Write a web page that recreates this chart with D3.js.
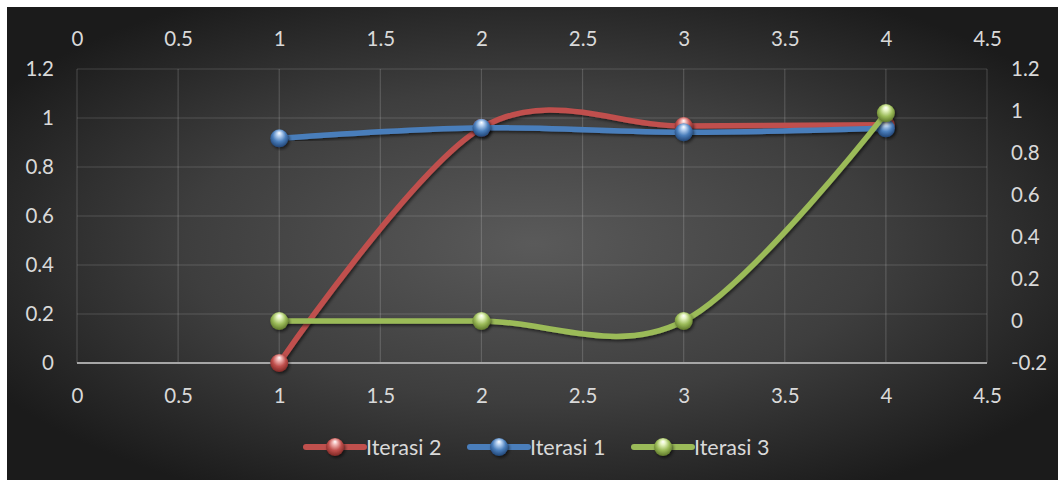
<!DOCTYPE html>
<html>
<head>
<meta charset="utf-8">
<script src="https://cdn.jsdelivr.net/npm/d3@7"></script>
<style>
  html, body { margin: 0; padding: 0; background: #ffffff; }
  svg { display: block; }
  text { font-family: Lato, "Open Sans", sans-serif; fill: #d9d9d9; }
</style>
</head>
<body>
<svg id="chart" width="1058" height="481"></svg>
<script>
// Iteration results at each step
const steps = [1, 2, 3, 4];
const iterasi1 = [0.917, 0.960, 0.942, 0.958];
const iterasi2 = [0, 0.960, 0.967, 0.972];
const iterasi3 = [0, 0, 0, 0.99];   // plotted on the secondary axis

const xTicks = [0, 0.5, 1, 1.5, 2, 2.5, 3, 3.5, 4, 4.5];
const yLeftTicks = [0, 0.2, 0.4, 0.6, 0.8, 1, 1.2];
const yRightTicks = [-0.2, 0, 0.2, 0.4, 0.6, 0.8, 1, 1.2];

const seriesList = [
  { name: "Iterasi 2", values: iterasi2, color: "#c0504d", light: "#f2b8b6", dark: "#7a2522", axis: "left" },
  { name: "Iterasi 1", values: iterasi1, color: "#4a7ebb", light: "#b9d3f2", dark: "#1f4272", axis: "left" },
  { name: "Iterasi 3", values: iterasi3, color: "#9bbb59", light: "#e6f5c2", dark: "#5b7428", axis: "right" }
];

const svg = d3.select("#chart");
const W = 1058, H = 481;
const plot = { left: 77, right: 987, top: 69, bottom: 363 };

const defs = svg.append("defs");

// Dark chart background, lighter toward the middle
const bg = defs.append("radialGradient").attr("id", "bgGrad")
  .attr("cx", "0.5").attr("cy", "0.5").attr("r", "0.6");
bg.append("stop").attr("offset", "0%").attr("stop-color", "#5a5a5a");
bg.append("stop").attr("offset", "55%").attr("stop-color", "#3e3e3e");
bg.append("stop").attr("offset", "100%").attr("stop-color", "#1b1b1b");

const shadow = defs.append("filter").attr("id", "shadow")
  .attr("x", "-20%").attr("y", "-20%").attr("width", "140%").attr("height", "140%");
shadow.append("feDropShadow").attr("dx", 1.5).attr("dy", 2).attr("stdDeviation", 1.8)
  .attr("flood-color", "#000").attr("flood-opacity", 0.55);

// Glossy sphere fill for each series' markers
seriesList.forEach((s, i) => {
  const g = defs.append("radialGradient").attr("id", "sphere" + i)
    .attr("cx", "0.5").attr("cy", "0.42").attr("r", "0.6")
    .attr("fx", "0.5").attr("fy", "0.2");
  g.append("stop").attr("offset", "0%").attr("stop-color", "#ffffff");
  g.append("stop").attr("offset", "22%").attr("stop-color", s.light);
  g.append("stop").attr("offset", "60%").attr("stop-color", s.color);
  g.append("stop").attr("offset", "100%").attr("stop-color", s.dark);
});

svg.append("rect").attr("x", 7).attr("y", 7).attr("width", W - 7).attr("height", H - 8)
  .attr("fill", "url(#bgGrad)");

const x = d3.scaleLinear().domain([0, 4.5]).range([plot.left, plot.right]);
const yL = d3.scaleLinear().domain([0, 1.2]).range([plot.bottom, plot.top]);
const yR = d3.scaleLinear().domain([-0.2, 1.2]).range([plot.bottom, plot.top]);

// Gridlines
const grid = svg.append("g");
grid.selectAll("line.v").data(xTicks).join("line")
  .attr("x1", d => x(d)).attr("x2", d => x(d))
  .attr("y1", plot.top).attr("y2", plot.bottom)
  .attr("stroke", "rgba(255,255,255,0.16)").attr("stroke-width", 1.2);
grid.selectAll("line.h").data(yLeftTicks.filter(d => d > 0)).join("line")
  .attr("x1", plot.left).attr("x2", plot.right)
  .attr("y1", d => yL(d)).attr("y2", d => yL(d))
  .attr("stroke", "rgba(255,255,255,0.16)").attr("stroke-width", 1.2);

// Horizontal axis line
svg.append("line")
  .attr("x1", plot.left).attr("x2", plot.right)
  .attr("y1", yL(0)).attr("y2", yL(0))
  .attr("stroke", "#a6a6a6").attr("stroke-width", 2.2);

// Axes (labels only, no tick marks)
function styleAxis(g) {
  g.select(".domain").remove();
  g.selectAll(".tick line").remove();
  g.selectAll(".tick text").attr("fill", "#d9d9d9").style("font-size", "20.5px")
    .style("font-family", "Lato, 'Open Sans', sans-serif");
}
const fmt = d => String(d);

svg.append("g").attr("transform", `translate(0,${yL(0)})`)
  .call(d3.axisBottom(x).tickValues(xTicks).tickFormat(fmt).tickSize(0).tickPadding(25))
  .call(styleAxis);
svg.append("g").attr("transform", `translate(0,${plot.top})`)
  .call(d3.axisTop(x).tickValues(xTicks).tickFormat(fmt).tickSize(0).tickPadding(23))
  .call(styleAxis);
svg.append("g").attr("transform", `translate(${plot.left},0)`)
  .call(d3.axisLeft(yL).tickValues(yLeftTicks).tickFormat(fmt).tickSize(0).tickPadding(23))
  .call(styleAxis);
svg.append("g").attr("transform", `translate(${plot.right},0)`)
  .call(d3.axisRight(yR).tickValues(yRightTicks).tickFormat(fmt).tickSize(0).tickPadding(24))
  .call(styleAxis);

// Smoothed series lines with sphere markers
const markerR = 9;
seriesList.forEach((s, i) => {
  const y = s.axis === "left" ? yL : yR;
  const pts = steps.map((st, j) => [st, s.values[j]]);
  const line = d3.line().x(d => x(d[0])).y(d => y(d[1])).curve(d3.curveCardinal.tension(0));
  const g = svg.append("g").attr("class", "series");
  g.append("path").datum(pts).attr("d", line)
    .attr("fill", "none").attr("stroke", s.color).attr("stroke-width", 5.5)
    .attr("stroke-linecap", "round").attr("filter", "url(#shadow)");
  g.selectAll("circle").data(pts).join("circle")
    .attr("cx", d => x(d[0])).attr("cy", d => y(d[1])).attr("r", markerR)
    .attr("fill", `url(#sphere${i})`).attr("filter", "url(#shadow)");
});

// Legend
const legendItems = [
  { s: seriesList[0], x0: 306 },
  { s: seriesList[1], x0: 470 },
  { s: seriesList[2], x0: 634 }
];
const ly = 447;
legendItems.forEach(({ s, x0 }) => {
  const i = seriesList.indexOf(s);
  const g = svg.append("g");
  g.append("line").attr("x1", x0).attr("x2", x0 + 58).attr("y1", ly).attr("y2", ly)
    .attr("stroke", s.color).attr("stroke-width", 6).attr("stroke-linecap", "round");
  g.append("circle").attr("cx", x0 + 29).attr("cy", ly).attr("r", markerR)
    .attr("fill", `url(#sphere${i})`).attr("filter", "url(#shadow)");
  g.append("text").attr("x", x0 + 60).attr("y", ly).attr("dy", "0.35em")
    .style("font-size", "21.5px").text(s.name);
});
</script>
</body>
</html>
